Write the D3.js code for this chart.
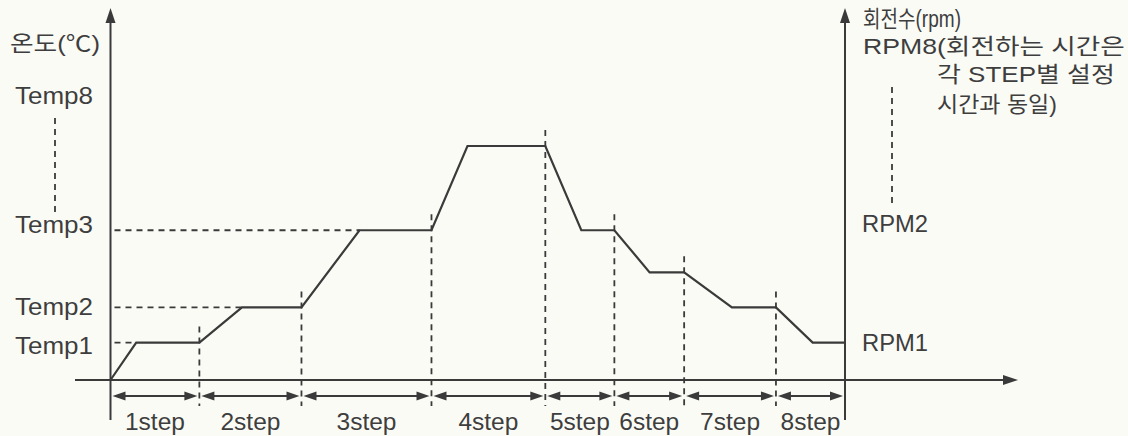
<!DOCTYPE html>
<html>
<head>
<meta charset="utf-8">
<script src="https://cdn.jsdelivr.net/npm/d3@7"></script>
<style>
  html, body { margin: 0; padding: 0; background: #fbfbf6; }
  svg { display: block; }
  text { font-family: "Liberation Sans", Arial, "Noto Sans CJK KR", sans-serif; fill: #3e3e3e; }
  .kr { font-family: "Liberation Sans", "Noto Sans CJK KR", sans-serif; }
</style>
</head>
<body>
<svg id="chart" width="1128" height="436"></svg>
<script>
// ---- data (time units 0..100, temperature units relative) ----
const steps = ["1step", "2step", "3step", "4step", "5step", "6step", "7step", "8step"];
const rampEnds = [3.5, 17.9, 33.9, 48.6, 64.1, 73.4, 84.6, 95.6];   // time when set level is reached
const stepEnds = [12.1, 26, 43.7, 59.2, 68.6, 78.1, 90.6, 100];     // end of each step
const levels = [16, 31, 64, 100, 64, 46, 31, 16];                    // set temperature per step
const tempTickLabels = ["Temp1", "Temp2", "Temp3", "Temp8"];
const tempTickValues = [15, 31.4, 66.7, 121.8];
const rpmTickLabels = ["RPM1", "RPM2"];
const rpmTickValues = [16.2, 67];
const tempGuideLevels = [16, 31, 64];           // dashed guides to Temp1..Temp3
const tempGuideEnds = [3.5, 17.9, 33.9];
const leftAxisTitle = "온도(℃)";
const rightAxisTitle = "회전수(rpm)";
const rpmNote = ["RPM8(회전하는 시간은", "각 STEP별 설정", "시간과 동일)"];

// ---- scales ----
const x = d3.scaleLinear().domain([0, 100]).range([110.5, 845]);
const y = d3.scaleLinear().domain([0, 100]).range([380, 146]);

const svg = d3.select("#chart");
const ink = "#3a3a3a";
const FS = 24.5;

// ---- axes ----
function arrowHead(g, tipX, tipY, dir, len, hw) {
  let pts;
  if (dir === "up") pts = [[tipX, tipY], [tipX - hw, tipY + len], [tipX + hw, tipY + len]];
  else if (dir === "right") pts = [[tipX, tipY], [tipX - len, tipY - hw], [tipX - len, tipY + hw]];
  else if (dir === "left") pts = [[tipX, tipY], [tipX + len, tipY - hw], [tipX + len, tipY + hw]];
  g.append("path").attr("d", d3.line()(pts) + "Z").attr("fill", ink);
}

const axes = svg.append("g");
// x axis (time)
axes.append("line").attr("x1", 75).attr("x2", 1010).attr("y1", y(0)).attr("y2", y(0))
  .attr("stroke", ink).attr("stroke-width", 2);
arrowHead(axes, 1018, y(0), "right", 15, 5);
// left and right vertical axes
[x(0), x(100)].forEach(px => {
  axes.append("line").attr("x1", px).attr("x2", px).attr("y1", 14).attr("y2", 420)
    .attr("stroke", ink).attr("stroke-width", 2);
  arrowHead(axes, px, 8, "up", 15, 5);
});

// ---- dashed step boundaries ----
const dash = "6,5";
stepEnds.slice(0, -1).forEach((t, i) => {
  svg.append("line").attr("x1", x(t)).attr("x2", x(t))
    .attr("y1", y(levels[i]) - 16).attr("y2", 406)
    .attr("stroke", ink).attr("stroke-width", 1.8).attr("stroke-dasharray", dash);
});

// ---- dashed guides to Temp labels ----
tempGuideLevels.forEach((v, i) => {
  svg.append("line").attr("x1", x(0) + 4).attr("x2", x(tempGuideEnds[i]))
    .attr("y1", y(v)).attr("y2", y(v))
    .attr("stroke", ink).attr("stroke-width", 1.8).attr("stroke-dasharray", dash);
});

// ---- profile line ----
const pts = [[0, 0]];
steps.forEach((s, i) => { pts.push([rampEnds[i], levels[i]]); pts.push([stepEnds[i], levels[i]]); });
svg.append("path").datum(pts)
  .attr("d", d3.line().x(d => x(d[0])).y(d => y(d[1])))
  .attr("fill", "none").attr("stroke", ink).attr("stroke-width", 2.2).attr("stroke-linejoin", "miter");

// ---- step duration arrows ----
const starts = [0].concat(stepEnds.slice(0, -1));
const arrowY = 396;
steps.forEach((s, i) => {
  const a = x(starts[i]) + 2, b = x(stepEnds[i]) - 2;
  const g = svg.append("g");
  g.append("line").attr("x1", a + 6).attr("x2", b - 6).attr("y1", arrowY).attr("y2", arrowY)
    .attr("stroke", ink).attr("stroke-width", 1.8);
  arrowHead(g, a, arrowY, "left", 13, 4.5);
  arrowHead(g, b, arrowY, "right", 13, 4.5);
  g.append("text").attr("x", (x(starts[i]) + x(stepEnds[i])) / 2).attr("y", 430)
    .attr("text-anchor", "middle").attr("font-size", FS).text(s);
});

// ---- tick labels ----
tempTickLabels.forEach((t, i) => {
  svg.append("text").attr("x", 15).attr("y", y(tempTickValues[i]) + FS * 0.36)
    .attr("font-size", FS).attr("textLength", 78).attr("lengthAdjust", "spacingAndGlyphs").text(t);
});
rpmTickLabels.forEach((t, i) => {
  svg.append("text").attr("x", 862).attr("y", y(rpmTickValues[i]) + FS * 0.36)
    .attr("font-size", FS).attr("textLength", 66).attr("lengthAdjust", "spacingAndGlyphs").text(t);
});

// dotted continuation between Temp3 and Temp8, RPM2 and RPM8
svg.append("line").attr("x1", 55).attr("x2", 55).attr("y1", 118).attr("y2", 212)
  .attr("stroke", ink).attr("stroke-width", 1.8).attr("stroke-dasharray", dash);
svg.append("line").attr("x1", 892).attr("x2", 892).attr("y1", 87).attr("y2", 204)
  .attr("stroke", ink).attr("stroke-width", 1.8).attr("stroke-dasharray", dash);

// ---- axis titles (Korean text fitted to width by a horizontal scale) ----
const KFS = 22;
function fitText(str, tx, cy, width, fs) {
  const t = svg.append("text").attr("class", "kr").attr("font-size", fs)
    .attr("x", 0).attr("y", 0).text(str);
  const natural = t.node().getComputedTextLength();
  const sx = width ? width / natural : 1;
  t.attr("transform", `translate(${tx},${cy + fs * 0.36}) scale(${sx},1)`);
}
fitText(leftAxisTitle, 10, 43, 90, KFS);
fitText(rightAxisTitle, 863, 19, 98, 23);
const noteX = [863, 937, 937], noteY = [46, 74, 104], noteW = [262, 178, 120];
rpmNote.forEach((t, i) => fitText(t, noteX[i], noteY[i], noteW[i], KFS));
</script>
</body>
</html>
